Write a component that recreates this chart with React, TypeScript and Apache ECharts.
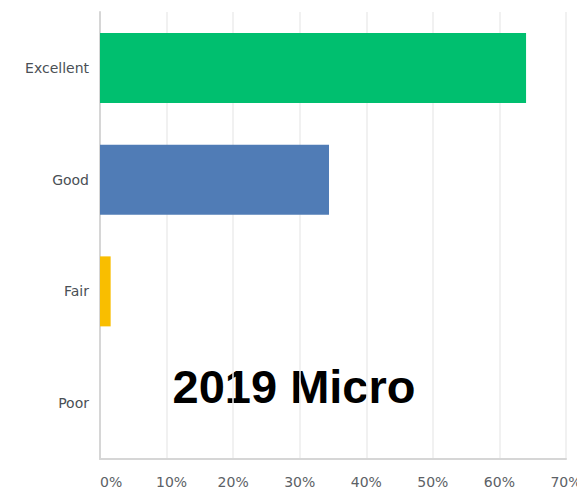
import React, { useEffect, useRef } from "react";
import * as echarts from "echarts";

const categories = ["Excellent", "Good", "Fair", "Poor"];
const values = [64.0, 34.4, 1.6, 0];
const barColors = ["#00bf6f", "#507cb6", "#f9be00", "#999999"];
const tickValues = [0, 10, 20, 30, 40, 50, 60, 70];
const overlayTitle = "2019 Micro";

export default function App() {
  const ref = useRef<HTMLDivElement>(null);
  useEffect(() => {
    const chart = echarts.init(ref.current!, null, { renderer: "svg" });
    chart.setOption({
      animation: false,
      grid: {
        left: 100,
        right: 11,
        top: 12,
        bottom: 33,
        containLabel: false,
        outerBoundsMode: "none",
      },
      xAxis: {
        type: "value",
        min: tickValues[0],
        max: tickValues[tickValues.length - 1],
        interval: 10,
        axisLine: { show: true, lineStyle: { color: "#d6d6d6", width: 2 } },
        axisTick: { show: false },
        splitLine: { show: true, lineStyle: { color: "#ececec", width: 1.5 } },
        axisLabel: {
          color: "#5c6166",
          fontSize: 14,
          fontFamily: "DejaVu Sans",
          margin: 16,
          hideOverlap: false,
          alignMinLabel: "left",
          formatter: (v: number) => (v === 10 ? "{s|" + v + "%}" : v + "%"),
          rich: {
            s: { color: "#5c6166", fontSize: 14, fontFamily: "DejaVu Sans", padding: [0, 0, 0, 10] },
          },
        },
      },
      yAxis: {
        type: "category",
        data: categories,
        inverse: true,
        axisLine: { show: true, lineStyle: { color: "#d6d6d6", width: 2 } },
        axisTick: { show: false },
        axisLabel: {
          color: "#4a4f55",
          fontSize: 14,
          fontFamily: "DejaVu Sans",
          margin: 11,
        },
      },
      series: [
        {
          type: "bar",
          barWidth: 70,
          data: values.map((v, i) => ({ value: v, itemStyle: { color: barColors[i] } })),
        },
      ],
      graphic: [
        {
          type: "text",
          x: 294,
          y: 386,
          style: {
            text: overlayTitle,
            fill: "#000000",
            fontFamily: "Liberation Sans",
            fontWeight: "bold",
            fontSize: 47,
            textAlign: "center",
            textVerticalAlign: "middle",
          },
        },
      ],
    });
    return () => chart.dispose();
  }, []);
  return (
    <div
      ref={ref}
      style={{ position: "fixed", left: 0, top: 0, width: 577, height: 492, background: "#fff" }}
    />
  );
}
